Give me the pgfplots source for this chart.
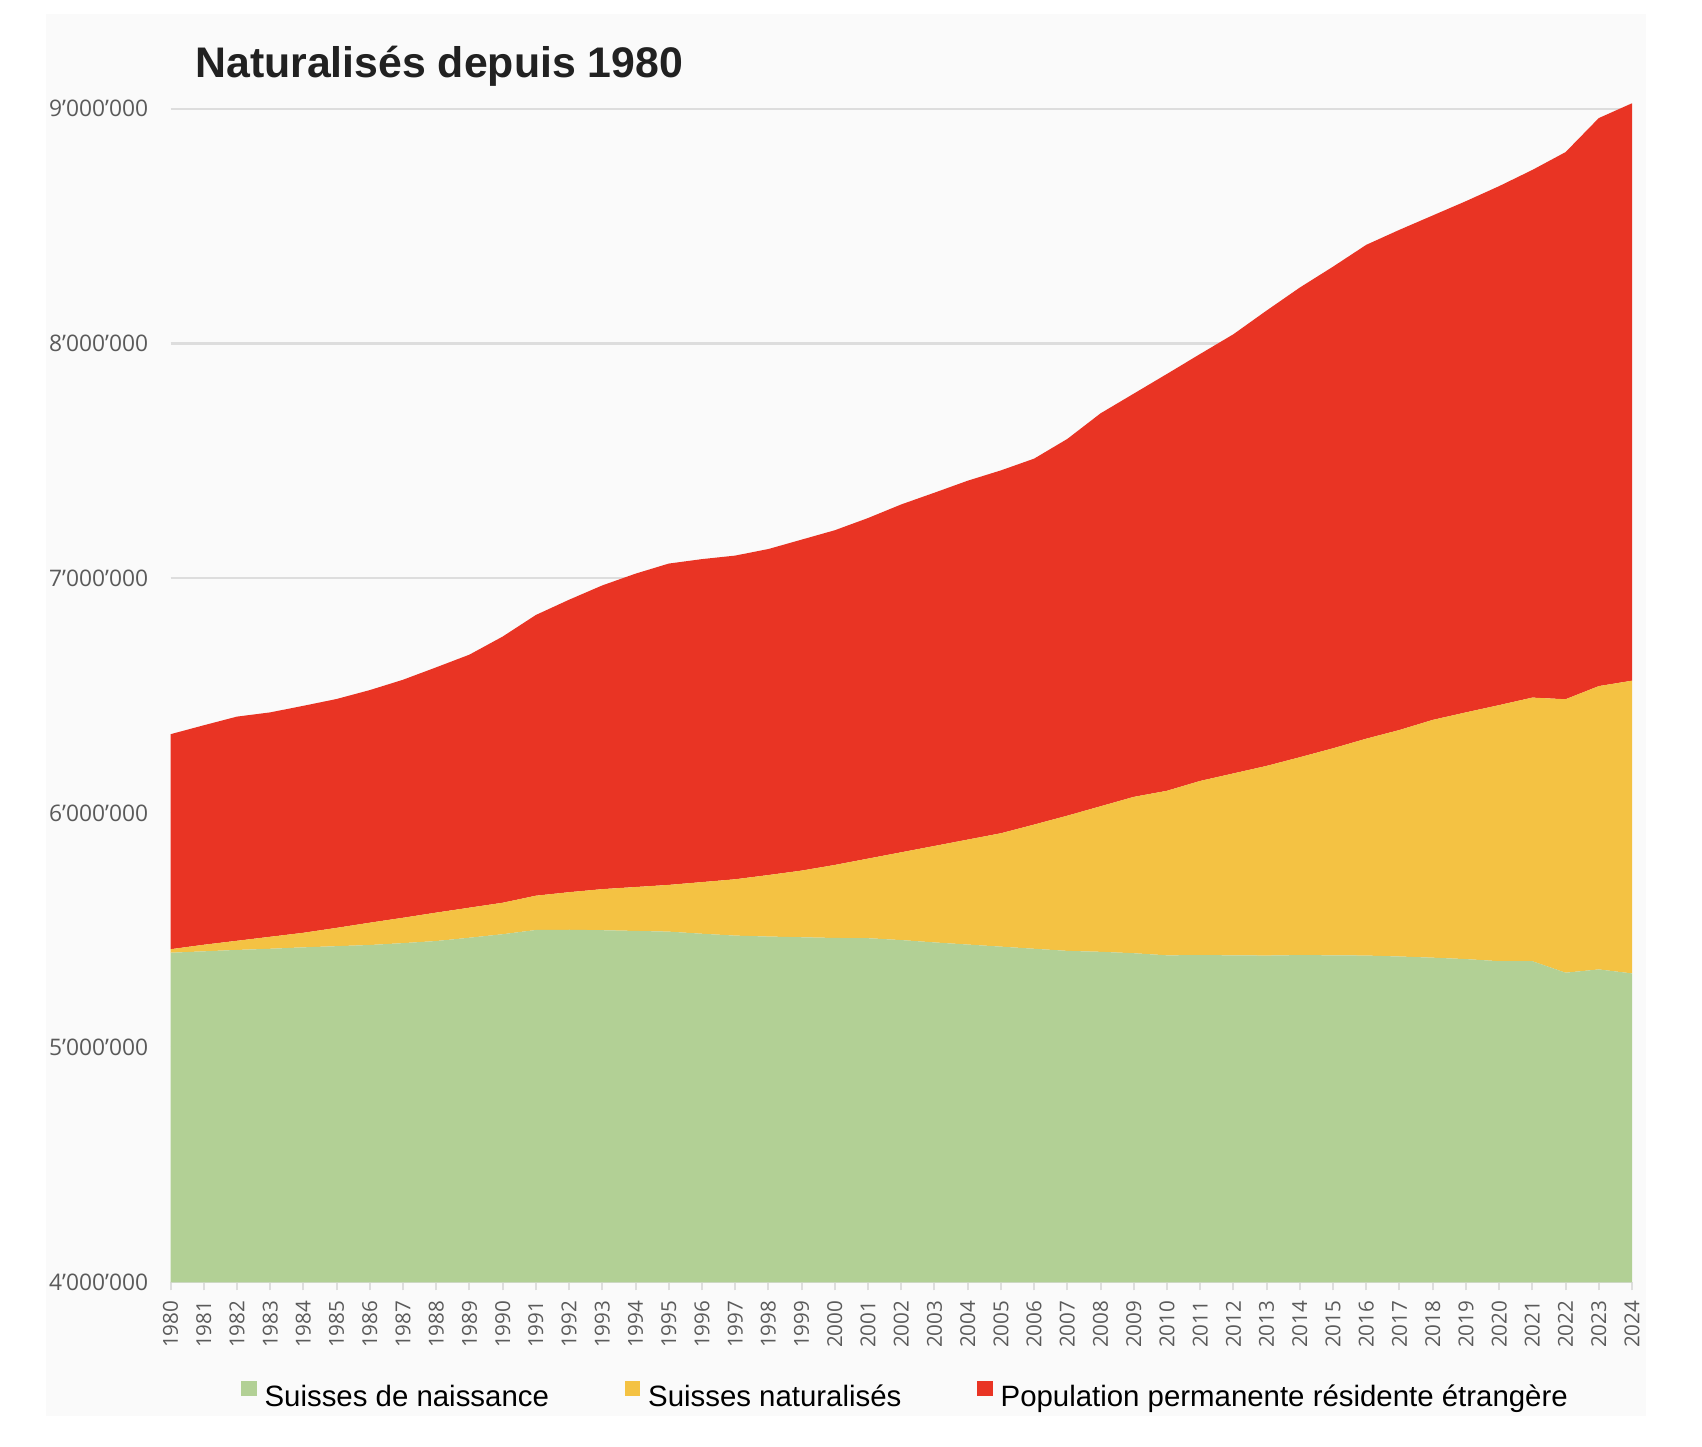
\documentclass[border=0pt]{standalone}
\usepackage{fontspec}
\setmainfont{Liberation Sans}
\newfontfamily\tickfont{Open Sans}
\usepackage{pgfplots}
\pgfplotsset{compat=1.18}
\usepackage{pgfplotstable}

\definecolor{cnais}{HTML}{B2D095}
\definecolor{cnat}{HTML}{F4C243}
\definecolor{cetr}{HTML}{E93424}
\definecolor{panel}{HTML}{FAFAFA}
\definecolor{gridc}{HTML}{DDDDDD}
\definecolor{tickc}{HTML}{5A5A5A}

% Population résidente permanente de la Suisse (personnes)
% nais = Suisses de naissance, nat = Suisses naturalisés depuis 1980,
% etr = population permanente résidente étrangère
\pgfplotstableread{
year nais nat etr
1980 5404000 15000 916000
1981 5410000 28000 935000
1982 5416000 39000 955000
1983 5421000 51000 956000
1984 5427000 62000 967000
1985 5432000 78000 975000
1986 5437000 95000 991000
1987 5445000 108000 1014000
1988 5454000 121000 1045000
1989 5468000 128000 1078000
1990 5483000 134000 1134000
1991 5501000 146000 1196000
1992 5502000 160000 1246000
1993 5500000 175000 1294000
1994 5497000 187000 1335000
1995 5494000 199000 1369000
1996 5485000 220000 1376000
1997 5477000 240000 1379000
1998 5473000 262000 1389000
1999 5470000 284000 1410000
2000 5467000 311000 1426000
2001 5466000 339000 1451000
2002 5458000 374000 1482000
2003 5448000 411000 1505000
2004 5439000 447000 1529000
2005 5430000 483000 1546000
2006 5421000 529000 1559000
2007 5412000 576000 1605000
2008 5408000 620000 1674000
2009 5402000 666000 1718000
2010 5393000 701000 1776000
2011 5394000 742000 1819000
2012 5393000 775000 1871000
2013 5392000 808000 1940000
2014 5394000 843000 2001000
2015 5393000 882000 2052000
2016 5392000 924000 2104000
2017 5388000 965000 2131000
2018 5383000 1013000 2149000
2019 5377000 1051000 2178000
2020 5368000 1091000 2211000
2021 5368000 1123000 2248000
2022 5319000 1165000 2331000
2023 5333000 1207000 2420000
2024 5316000 1247000 2460000
}\popdata

\begin{document}
\begin{tikzpicture}
\fill[white] (0,0) rectangle (851pt,723pt);
\useasboundingbox (0,0) rectangle (851pt,723pt);
\fill[panel] (23pt,15pt) rectangle (823pt,716pt);
\node[anchor=base west, inner sep=0pt, font=\fontsize{21.4}{26}\selectfont\bfseries, text=black!87] at (97.5pt,684pt) {Naturalisés depuis 1980};
\begin{axis}[
  at={(85.25pt,81.85pt)}, anchor=south west,
  scale only axis, width=730.75pt, height=592.67pt,
  xmin=1980, xmax=2024, ymin=4000000, ymax=9050000,
  stack plots=y,
  axis x line*=bottom, axis y line*=left,
  x axis line style={draw=gridc, line width=1pt},
  y axis line style={draw=none},
  xtick={1980,1981,...,2024},
  ytick={4000000,5000000,6000000,7000000,8000000,9000000},
  scaled y ticks=false,
  ymajorgrids,
  major grid style={draw=gridc, line width=1.1pt},
  tick align=outside, major tick length=4pt,
  xtick style={draw=gridc, line width=1pt},
  ytick style={draw=none},
  tick label style={text=tickc},
  /pgf/number format/assume math mode=true,
  xticklabel style={font=\tickfont\fontsize{10.3}{12}\selectfont, rotate=90, anchor=east, inner sep=0pt, /pgf/number format/1000 sep={}},
  yticklabel style={font=\tickfont\fontsize{11.4}{13}\selectfont, inner sep=0pt, anchor=east, /pgf/number format/.cd, fixed, precision=0, 1000 sep={’}},
  xticklabel shift=5pt,
  yticklabel shift=7pt,
  legend style={at={(axis description cs:0,0)}, anchor=west, xshift=35.25pt, yshift=-56.35pt,
    draw=none, fill=none, inner sep=0pt, font=\fontsize{14.7}{17}\selectfont,
    nodes={inner sep=0pt},
    /tikz/every odd column/.append style={column sep=4pt},
    /tikz/every even column/.append style={column sep=38pt}},
  legend columns=3,
  legend image code/.code={\fill[#1] (0pt,0.5pt) rectangle (7.6pt,8.1pt);},
]
\addplot[fill=cnais, draw=none] table[x=year, y=nais] {\popdata} \closedcycle;
\addplot[fill=cnat, draw=none] table[x=year, y=nat] {\popdata} \closedcycle;
\addplot[fill=cetr, draw=none] table[x=year, y=etr] {\popdata} \closedcycle;
\legend{Suisses de naissance, Suisses naturalisés, Population permanente résidente étrangère}
\end{axis}
\end{tikzpicture}
\end{document}
